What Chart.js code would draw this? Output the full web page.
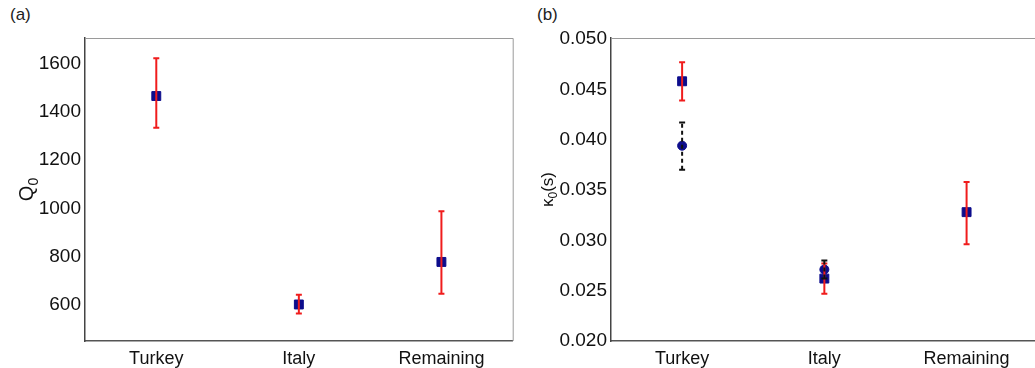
<!DOCTYPE html>
<html>
<head>
<meta charset="utf-8">
<script src="https://cdn.jsdelivr.net/npm/chart.js@4/dist/chart.umd.min.js"></script>
<style>
  html, body { margin: 0; padding: 0; background: #fff; overflow: hidden; }
  body { width: 1035px; height: 368px; position: relative; }
  canvas { position: absolute; top: 0; }
  #chartQ { left: 0; }
  #chartK { left: 515px; }
  .panel { position: absolute; top: 5px; font: 17px 'Liberation Sans', Arial, sans-serif; color: #222; }
</style>
</head>
<body>
<div class="panel" style="left:10px">(a)</div>
<div class="panel" style="left:537px">(b)</div>
<canvas id="chartQ" width="520" height="368"></canvas>
<canvas id="chartK" width="530" height="368"></canvas>
<script>
// regions
var countries = ['Turkey', 'Italy', 'Remaining']

// Q0 estimates with lower / upper bounds
var q0 = [1465, 603, 779]
var q0Low = [1334, 566, 647]
var q0High = [1621, 643, 989]
var q0Ticks = [600, 800, 1000, 1200, 1400, 1600]

// kappa0 (s), square fit
var kappaSq = [0.0458, 0.0262, 0.0328]
var kappaSqLow = [0.0439, 0.0247, 0.0296]
var kappaSqHigh = [0.0477, 0.0277, 0.0358]

// kappa0 (s), circle fit (no value for Remaining)
var kappaDot = [0.0394, 0.0271, null]
var kappaDotLow = [0.0370, 0.0262, null]
var kappaDotHigh = [0.0417, 0.0280, null]
var kappaTicks = [0.020, 0.025, 0.030, 0.035, 0.040, 0.045, 0.050]

var navy = '#0d0d8c'
var red = '#f01c1c'

Chart.defaults.font.family = "'Liberation Sans', Arial, sans-serif"
Chart.defaults.color = '#111'

// vertical error bars drawn on top of the points
var errorBarPlugin = {
  id: 'errorBars',
  afterDatasetsDraw: function(chart){
    var ctx = chart.ctx
    var y = chart.scales.y
    chart.data.datasets.forEach(function(ds, i){
      if (!ds.errorBars) return
      var eb = ds.errorBars
      var meta = chart.getDatasetMeta(i)
      ctx.save()
      ctx.strokeStyle = eb.color
      ctx.lineWidth = 2
      meta.data.forEach(function(pt, j){
        if (eb.low[j] == null) return
        var x = pt.x
        var yl = y.getPixelForValue(eb.low[j])
        var yh = y.getPixelForValue(eb.high[j])
        ctx.setLineDash(eb.dash || [])
        ctx.beginPath()
        ctx.moveTo(x, yl)
        ctx.lineTo(x, yh)
        ctx.stroke()
        ctx.setLineDash([])
        ctx.beginPath()
        ctx.moveTo(x - 3, yl); ctx.lineTo(x + 3, yl)
        ctx.moveTo(x - 3, yh); ctx.lineTo(x + 3, yh)
        ctx.stroke()
      })
      ctx.restore()
    })
  }
}

// light top / right edges of the plot box
var framePlugin = {
  id: 'frame',
  beforeDatasetsDraw: function(chart){
    var a = chart.chartArea, ctx = chart.ctx
    ctx.save()
    ctx.strokeStyle = '#9a9a9a'
    ctx.lineWidth = 1
    ctx.beginPath()
    ctx.moveTo(a.left, a.top + 0.5)
    ctx.lineTo(a.right + 0.5, a.top + 0.5)
    ctx.lineTo(a.right + 0.5, a.bottom)
    ctx.stroke()
    ctx.restore()
  }
}

// rotated y title with a subscript part: [main, sub, rest]
function yTitlePlugin(parts, size, xPos){
  return {
    id: 'yTitle',
    afterDraw: function(chart){
      var ctx = chart.ctx, a = chart.chartArea
      var font = Chart.defaults.font.family
      var subSize = Math.round(size * 0.7)
      ctx.save()
      ctx.fillStyle = '#111'
      ctx.textBaseline = 'alphabetic'
      ctx.font = size + 'px ' + font
      var w1 = ctx.measureText(parts[0]).width
      var w3 = ctx.measureText(parts[2]).width
      ctx.font = subSize + 'px ' + font
      var w2 = ctx.measureText(parts[1]).width
      var total = w1 + w2 + w3
      ctx.translate(xPos, (a.top + a.bottom) / 2)
      ctx.rotate(-Math.PI / 2)
      var x = -total / 2
      var base = size * 0.35
      ctx.font = size + 'px ' + font
      ctx.fillText(parts[0], x, base)
      ctx.font = subSize + 'px ' + font
      ctx.fillText(parts[1], x + w1, base + size * 0.25)
      ctx.font = size + 'px ' + font
      ctx.fillText(parts[2], x + w1 + w2, base)
      ctx.restore()
    }
  }
}

function makeScales(yMin, yMax, ticks, axisWidth, fmt){
  return {
    x: {
      type: 'category',
      offset: true,
      grid: { display: false, drawTicks: false },
      border: { display: true, color: '#555', width: 1.5 },
      ticks: { padding: 7, font: { size: 18 }, color: '#111' },
      afterFit: function(s){ s.height = 27 }
    },
    y: {
      min: yMin,
      max: yMax,
      grid: { display: false, drawTicks: false },
      border: { display: true, color: '#444', width: 1.5 },
      ticks: { padding: 4, font: { size: 19 }, color: '#111', callback: fmt },
      afterBuildTicks: function(s){ s.ticks = ticks.map(function(v){ return { value: v } }) },
      afterFit: function(s){ s.width = axisWidth }
    }
  }
}

var baseOptions = {
  responsive: false,
  animation: false,
  plugins: { legend: { display: false }, tooltip: { enabled: false } }
}

new Chart(document.getElementById('chartQ'), {
  type: 'line',
  data: {
    labels: countries,
    datasets: [{
      data: q0,
      showLine: false,
      pointStyle: 'rect',
      pointRadius: 6.3,
      pointBackgroundColor: navy,
      pointBorderColor: navy,
      pointBorderWidth: 1,
      errorBars: { low: q0Low, high: q0High, color: red }
    }]
  },
  options: Object.assign({}, baseOptions, {
    layout: { padding: { left: 0, right: 3, top: 38, bottom: 0 } },
    scales: makeScales(452, 1705, q0Ticks, 85, function(v){ return v })
  }),
  plugins: [framePlugin, errorBarPlugin, yTitlePlugin(['Q', '0', ''], 20, 26)]
})

new Chart(document.getElementById('chartK'), {
  type: 'line',
  data: {
    labels: countries,
    datasets: [{
      data: kappaSq,
      showLine: false,
      pointStyle: 'rect',
      pointRadius: 6.3,
      pointBackgroundColor: navy,
      pointBorderColor: navy,
      pointBorderWidth: 1,
      errorBars: { low: kappaSqLow, high: kappaSqHigh, color: red }
    }, {
      data: kappaDot,
      showLine: false,
      pointStyle: 'circle',
      pointRadius: 4.5,
      pointBackgroundColor: navy,
      pointBorderColor: navy,
      pointBorderWidth: 1,
      errorBars: { low: kappaDotLow, high: kappaDotHigh, color: '#111', dash: [4, 3] }
    }]
  },
  options: Object.assign({}, baseOptions, {
    layout: { padding: { left: 0, right: 2, top: 38, bottom: 0 } },
    scales: makeScales(0.020, 0.0501, kappaTicks, 96, function(v){ return v.toFixed(3) })
  }),
  plugins: [framePlugin, errorBarPlugin, yTitlePlugin(['\u03ba', '0', '(s)'], 17, 32)]
})
</script>
</body>
</html>
